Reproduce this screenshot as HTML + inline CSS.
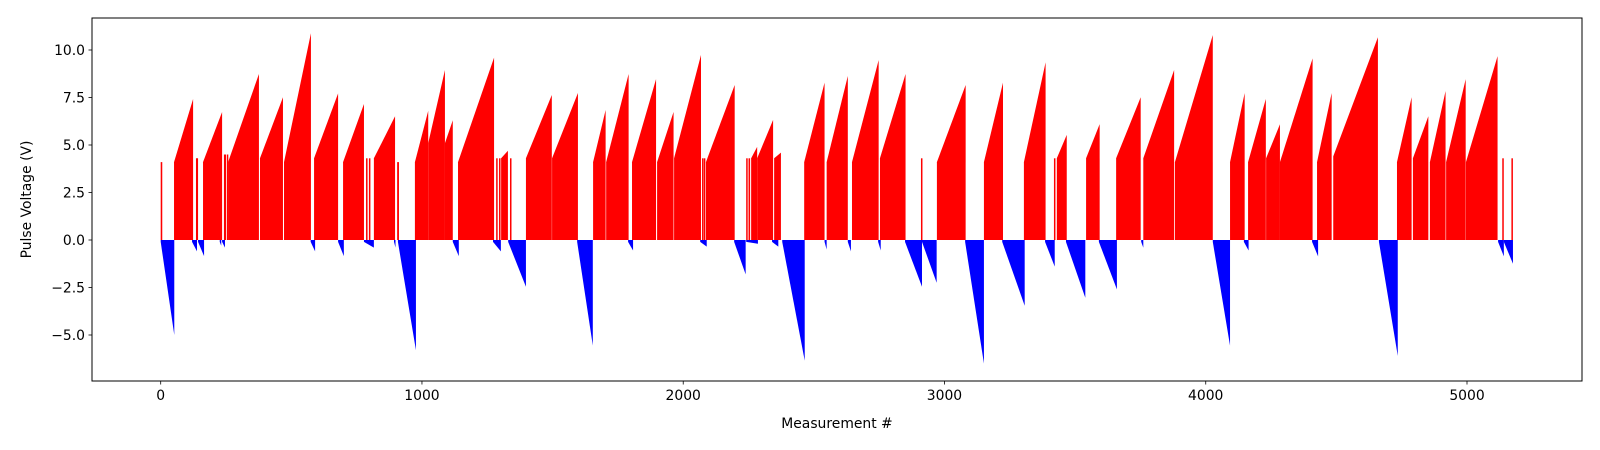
<!DOCTYPE html>
<html><head><meta charset="utf-8"><style>
html,body{margin:0;padding:0;background:#fff;}
svg{display:block;font-family:"DejaVu Sans","Liberation Sans",sans-serif;}
</style></head><body>
<svg id="chart" width="1600" height="450" viewBox="0 0 1600 450" xmlns="http://www.w3.org/2000/svg">
<rect x="0" y="0" width="1600" height="450" fill="#fff"/>
<g id="marks"></g>
<g id="axes"></g>
</svg>
<script>
// Red (positive) ramps: [startIndex, endIndex, startVolts, endVolts]
const posRamps = [
[0,6,4.1,4.1],[51,124,4.1,7.42],[135,143,4.3,4.3],[162,235,4.1,6.74],[242,250,4.5,4.5],[253,258,4.5,4.5],
[258,376,4.1,8.74],[380,468,4.3,7.51],[472,575,4.1,10.88],[587,679,4.3,7.72],[698,778,4.1,7.16],
[786,790,4.3,4.3],[797,801,4.3,4.3],[816,897,4.3,6.51],[905,912,4.1,4.1],[973,1024,4.1,6.8],
[1024,1088,5.1,8.95],[1088,1118,5.1,6.3],[1138,1276,4.1,9.6],[1284,1288,4.3,4.3],[1295,1299,4.3,4.3],
[1303,1329,4.3,4.7],[1337,1341,4.3,4.3],[1398,1497,4.3,7.63],[1498,1597,4.3,7.74],[1655,1703,4.1,6.84],
[1705,1791,4.1,8.74],[1804,1896,4.1,8.47],[1900,1963,4.1,6.74],[1965,2068,4.3,9.74],[2072,2076,4.3,4.3],
[2079,2083,4.3,4.3],[2087,2197,4.1,8.16],[2241,2245,4.3,4.3],[2250,2256,4.3,4.3],[2260,2283,4.3,4.9],
[2283,2344,4.3,6.32],[2348,2374,4.3,4.6],[2463,2541,4.1,8.28],[2549,2630,4.1,8.63],[2646,2748,4.1,9.47],
[2753,2851,4.3,8.74],[2910,2914,4.3,4.3],[2971,3081,4.1,8.16],[3151,3224,4.1,8.28],[3304,3387,4.1,9.35],
[3419,3422,4.3,4.3],[3430,3468,4.3,5.53],[3542,3594,4.3,6.1],[3657,3751,4.3,7.51],[3761,3879,4.3,8.95],
[3882,4027,4.1,10.79],[4093,4149,4.1,7.74],[4162,4230,4.1,7.42],[4231,4284,4.3,6.09],[4284,4409,4.1,9.56],
[4426,4482,4.1,7.74],[4488,4659,4.4,10.67],[4732,4788,4.1,7.51],[4793,4852,4.3,6.51],[4858,4918,4.1,7.84],
[4920,4995,4.1,8.47],[4996,5117,4.1,9.68],[5135,5139,4.3,4.3],[5170,5174,4.3,4.3]
];
// Blue (negative) ramps: [startIndex, endIndex, startVolts, endVolts]
const negRamps = [
[0,52,-0.1,-5.0],[120,139,-0.1,-0.6],[143,166,-0.1,-0.85],[235,246,-0.1,-0.4],[226*1+0,227,-0.1,-0.3],
[574,591,-0.1,-0.6],[679,701,-0.1,-0.85],[778,816,-0.1,-0.4],[893,897,-0.1,-0.4],[908,977,-0.1,-5.8],
[1118,1141,-0.1,-0.85],[1272,1302,-0.1,-0.6],[1330,1398,-0.1,-2.46],[1594,1654,-0.1,-5.56],
[1789,1808,-0.1,-0.55],[2065,2090,-0.1,-0.35],[2195,2239,-0.1,-1.81],[2241,2286,-0.1,-0.2],
[2340,2364,-0.1,-0.35],[2379,2465,-0.1,-6.35],[2541,2549,-0.1,-0.5],[2630,2642,-0.1,-0.6],
[2746,2756,-0.1,-0.55],[2849,2914,-0.1,-2.46],[2914,2970,-0.1,-2.25],[3079,3151,-0.1,-6.5],
[3221,3307,-0.1,-3.46],[3385,3422,-0.1,-1.4],[3465,3539,-0.1,-3.04],[3591,3660,-0.1,-2.6],
[3753,3761,-0.1,-0.4],[4027,4093,-0.1,-5.56],[4146,4164,-0.1,-0.55],[4407,4430,-0.1,-0.86],
[4663,4735,-0.1,-6.1],[5119,5141,-0.1,-0.86],[5141,5176,-0.1,-1.25]
];
const xTicks = [0,1000,2000,3000,4000,5000];
const xTickLabels = ["0","1000","2000","3000","4000","5000"];
const yTicks = [-5,-2.5,0,2.5,5,7.5,10];
const yTickLabels = ["\u22125.0","\u22122.5","0.0","2.5","5.0","7.5","10.0"];

const NS = "http://www.w3.org/2000/svg";
const L = 92, R = 1582, T = 18, B = 381;
function xs(d){ return 160.7 + d * 0.26126; }
function ys(v){ return 240 - v * 19; }
const marks = document.getElementById('marks');
const axes = document.getElementById('axes');

function ramp(r, color, name){
  let x0 = xs(r[0]), x1 = xs(r[1]);
  if (x1 - x0 < 1.5) x1 = x0 + 1.5;
  const p = document.createElementNS(NS, 'polygon');
  p.setAttribute('points', x0+','+ys(0)+' '+x0+','+ys(r[2])+' '+x1+','+ys(r[3])+' '+x1+','+ys(0));
  p.setAttribute('fill', color);
  
  
  marks.appendChild(p);
}
negRamps.forEach(r => ramp(r, '#0000ff', 'negative-pulse-ramp'));
posRamps.forEach(r => ramp(r, '#ff0000', 'positive-pulse-ramp'));

function el(tag, attrs, parent, text){
  const e = document.createElementNS(NS, tag);
  for (const k in attrs) e.setAttribute(k, attrs[k]);
  if (text !== undefined) e.textContent = text;
  parent.appendChild(e);
  return e;
}
const frame = el('rect', {x:L, y:T, width:R-L, height:B-T, fill:'none', stroke:'#000', 'stroke-width':1}, axes);



xTicks.forEach((t, i) => {
  const x = xs(t);
  const tk = el('line', {x1:x, x2:x, y1:B, y2:B+3.5, stroke:'#000', 'stroke-width':0.8}, axes);
  
  
  const lb = el('text', {x:x, y:B+19, 'font-size':13.9, 'text-anchor':'middle', fill:'#000'}, axes, xTickLabels[i]);
  
  
});
yTicks.forEach((t, i) => {
  const y = ys(t);
  const tk = el('line', {x1:L-3.5, x2:L, y1:y, y2:y, stroke:'#000', 'stroke-width':0.8}, axes);
  
  
  const lb = el('text', {x:L-7, y:y+5, 'font-size':13.9, 'text-anchor':'end', fill:'#000'}, axes, yTickLabels[i]);
  
  
});
const xt = el('text', {x:(L+R)/2, y:428, 'font-size':13.9, 'text-anchor':'middle', fill:'#000'}, axes, 'Measurement #');


const yt = el('text', {x:0, y:0, 'font-size':13.9, 'text-anchor':'middle', fill:'#000', transform:'translate(31,'+((T+B)/2)+') rotate(-90)'}, axes, 'Pulse Voltage (V)');


</script>
</body></html>
